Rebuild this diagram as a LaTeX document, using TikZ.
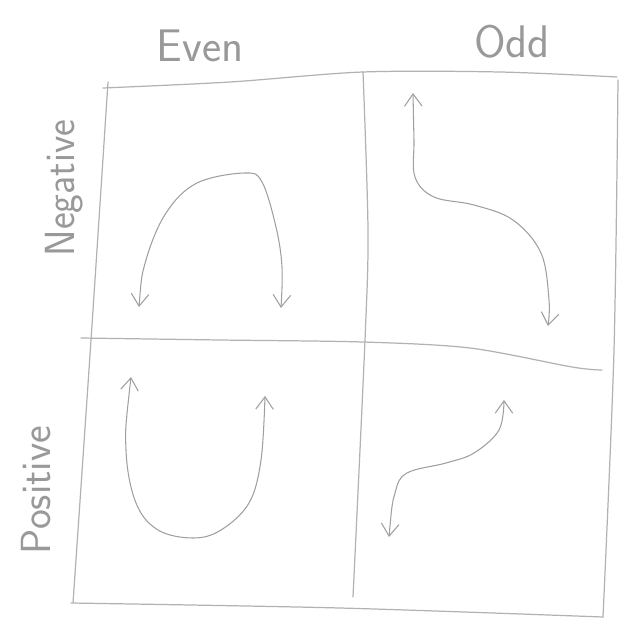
\documentclass[tikz,border=0pt]{standalone}
\usepackage{tikz}
\usetikzlibrary{arrows.meta}
\tikzset{
  pencil/.style={draw=gray!75,line width=0.6pt,line cap=round},
  gridline/.style={draw=gray!60,line width=0.7pt,line cap=round},
  barb/.style={pencil,{Straight Barb[length=7pt,width=10pt]}-{Straight Barb[length=7pt,width=10pt]}},
  hand/.style={text=gray!80,font=\sffamily\fontsize{26}{30}\selectfont,inner sep=0pt}
}
\begin{document}
\begin{tikzpicture}[x=0.02cm,y=-0.02cm]
              \useasboundingbox (0,0) rectangle (619,619);
              \draw[gridline] plot[smooth] coordinates {(103,88) (230,82) (363,72) (500,72) (617,77)};
              \draw[gridline] plot[smooth] coordinates {(108,82) (91,340) (73,603)};
              \draw[gridline] plot[smooth] coordinates {(363,72) (368,230) (365,340) (353,597)};
              \draw[gridline] plot[smooth] coordinates {(81,338) (220,340) (363,342) (470,348) (572,367) (602,370)};
              \draw[gridline] plot[smooth] coordinates {(71,603) (340,608) (603,617)};
              \draw[gridline] plot[smooth] coordinates {(618,80) (614,350) (603,617)};
              \node[hand] (even) at (200,46) {Even};
              \node[hand] (odd) at (512,42) {Odd};
              \node[hand,rotate=90,font=\sffamily\fontsize{24}{28}\selectfont] (neg) at (64,188) {\scalebox{0.95}[1]{Negative}};
              \node[hand,rotate=90,font=\sffamily\fontsize{24}{28}\selectfont] (pos) at (36,490) {Positive};
              \draw[barb] plot[smooth,tension=0.6] coordinates {(139,307) (146,260) (166,213) (197,183) (245,173) (262,182) (276,227) (282,267) (281,308)};
              \draw[barb] plot[smooth,tension=0.6] coordinates {(413,93) (414,140) (415,177) (434,197) (474,205) (513,220) (541,253) (549,300) (548,326)};
              \draw[barb] plot[smooth,tension=0.6] coordinates {(131,377) (126,450) (136,503) (158,530) (193,538) (221,530) (249,503) (261,460) (265,396)};
              \draw[barb] plot[smooth,tension=0.6] coordinates {(389,537) (395,493) (407,473) (446,463) (474,453) (499,430) (504,400)};
\end{tikzpicture}
\end{document}
